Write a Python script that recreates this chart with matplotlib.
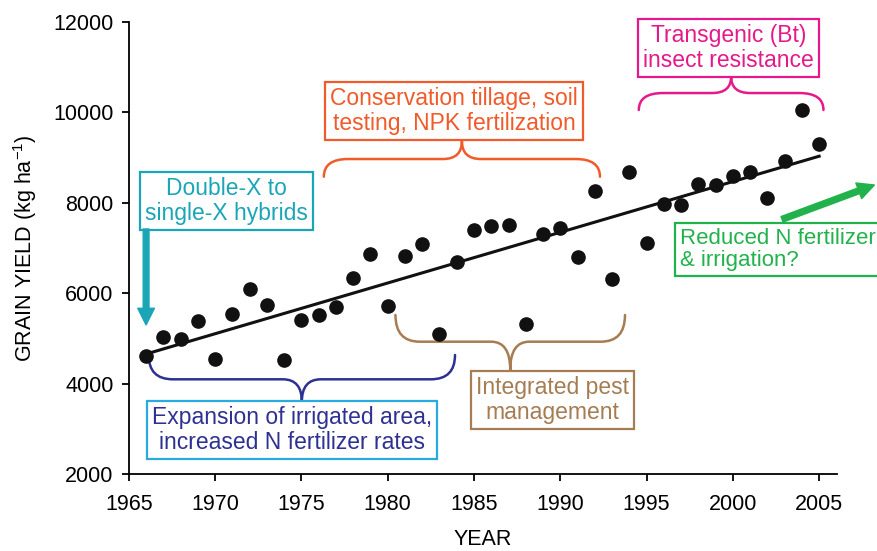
import matplotlib
matplotlib.use("Agg")
import matplotlib.pyplot as plt
import numpy as np
from matplotlib.path import Path
from matplotlib.patches import PathPatch

plt.rcParams["font.family"] = ["Liberation Sans", "DejaVu Sans"]
plt.rcParams["mathtext.fontset"] = "custom"
plt.rcParams["mathtext.rm"] = "Liberation Sans"

YEARS = list(range(1966, 2006))
YIELDS = [4610, 5030, 5000, 5390, 4550, 5540, 6090, 5730, 4520, 5420,
          5530, 5700, 6340, 6860, 5710, 6830, 7090, 5100, 6680, 7400,
          7495, 7510, 5310, 7300, 7440, 6810, 8250, 6320, 8690, 7115,
          7970, 7950, 8420, 8390, 8590, 8670, 8100, 8920, 10050, 9300]
X_TICKS = list(range(1965, 2006, 5))
Y_TICKS = list(range(2000, 14000, 2000))

TEAL = "#1aa6b7"
ORANGE = "#f15a29"
MAGENTA = "#e6198b"
GREEN = "#22b24c"
BROWN = "#a67c52"
NAVY = "#2e3192"
SKY = "#29aae1"


def brace(ax, x0, x1, y_arm, y_mid, y_tip, color, r=1.4, r2=1.1):
    xc = (x0 + x1) / 2
    verts = [(x0, y_arm), (x0, y_mid), (x0 + r, y_mid), (xc - r2, y_mid),
             (xc, y_mid), (xc, y_tip), (xc, y_mid), (xc + r2, y_mid),
             (x1 - r, y_mid), (x1, y_mid), (x1, y_arm)]
    codes = [Path.MOVETO, Path.CURVE3, Path.CURVE3, Path.LINETO,
             Path.CURVE3, Path.CURVE3, Path.CURVE3, Path.CURVE3,
             Path.LINETO, Path.CURVE3, Path.CURVE3]
    ax.add_patch(PathPatch(Path(verts, codes), fill=False, edgecolor=color,
                           lw=1.8, clip_on=False, capstyle="round"))


def box(ax, x, y, text, color, edge=None, ha="center", size=16.5):
    ax.text(x, y, text, color=color, fontsize=size, ha=ha, va="center",
            linespacing=1.1, clip_on=False,
            bbox=dict(boxstyle="square,pad=0.22", fc="white",
                      ec=edge or color, lw=1.6))


fig = plt.figure(figsize=(8.77, 5.51), dpi=100)
fig.subplots_adjust(left=0.1469, right=0.9547, bottom=0.1392, top=0.9606)
ax = fig.add_subplot(111)

slope, icpt = np.polyfit(YEARS, YIELDS, 1)
fit_x = np.array([YEARS[0], YEARS[-1]])
ax.plot(fit_x, slope * fit_x + icpt, color="#111111", lw=2.2, zorder=3)
ax.plot(YEARS, YIELDS, "o", color="#111111", ms=9.5, zorder=4)

ax.set_xlim(1965, 2006.05)
ax.set_ylim(2000, 12000)
ax.set_xticks(X_TICKS)
ax.set_yticks(Y_TICKS)
for side in ("top", "right"):
    ax.spines[side].set_visible(False)
for side in ("left", "bottom"):
    ax.spines[side].set_linewidth(1.3)
ax.tick_params(labelsize=15.5, length=5, width=1.3)
ax.tick_params(axis="x", pad=9)
ax.tick_params(axis="y", pad=6)
ax.set_xlabel("YEAR", fontsize=15.5, labelpad=10)
ax.set_ylabel("GRAIN YIELD (kg ha$^{\\mathregular{-1}}$)", fontsize=15.5, labelpad=10)

# braces
brace(ax, 1976.3, 1992.3, 8575, 8966, 9364, ORANGE)
brace(ax, 1994.55, 2005.25, 10049, 10424, 10785, MAGENTA)
brace(ax, 1980.45, 1993.75, 5520, 4930, 4304, BROWN)
brace(ax, 1966.15, 1983.9, 4636, 4099, 3604, NAVY)

# labels
box(ax, 1970.66, 8045, "Double-X to\nsingle-X hybrids", TEAL)
box(ax, 1983.85, 10020, "Conservation tillage, soil\ntesting, NPK fertilization", ORANGE)
box(ax, 1999.74, 11423, "Transgenic (Bt)\ninsect resistance", MAGENTA)
box(ax, 1989.53, 3642, "Integrated pest\nmanagement", BROWN)
box(ax, 1974.44, 2985, "Expansion of irrigated area,\nincreased N fertilizer rates", NAVY, edge=SKY)
box(ax, 1996.95, 6964, "Reduced N fertilizer\n& irrigation?", GREEN, ha="left", size=16)

# arrows
ax.annotate("", xy=(1966.0, 5300), xytext=(1966.0, 7420),
            arrowprops=dict(arrowstyle="simple,head_length=0.8,head_width=0.8,tail_width=0.28",
                            color=TEAL, shrinkA=0, shrinkB=0, mutation_scale=15),
            annotation_clip=False)
ax.annotate("", xy=(2008.2, 8392), xytext=(2002.85, 7634),
            arrowprops=dict(arrowstyle="simple,head_length=0.8,head_width=0.8,tail_width=0.28",
                            color=GREEN, shrinkA=0, shrinkB=0, mutation_scale=15),
            annotation_clip=False)

fig.savefig("out.png", dpi=100)
